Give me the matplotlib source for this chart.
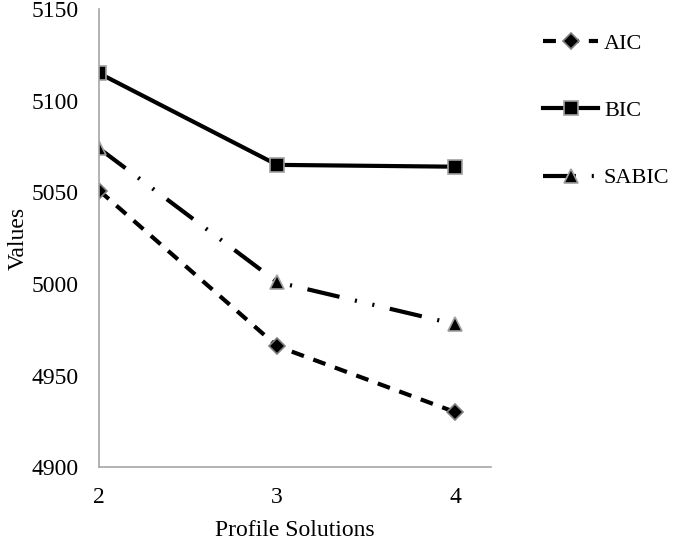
import matplotlib.pyplot as plt

solutions = [2, 3, 4]
aic = [5051, 4966, 4930]
bic = [5115, 5065, 5064]
sabic = [5074, 5001, 4978]

plt.rcParams['font.family'] = ['Liberation Serif', 'DejaVu Serif']
plt.rcParams['font.size'] = 17

fig = plt.figure(figsize=(6.79, 5.4), dpi=100)
ax = fig.add_axes([0.146, 0.135, 0.577, 0.848])

grey = '#a6a6a6'
lw = 3.0
ax.plot(solutions, aic, color='black', lw=lw, dashes=(3.1, 2.4),
        marker='D', markersize=8, markerfacecolor='black',
        markeredgecolor='#808080', markeredgewidth=1.2, label='AIC')
ax.plot(solutions, bic, color='black', lw=lw,
        marker='s', markersize=10, markerfacecolor='black',
        markeredgecolor='#a0a0a0', markeredgewidth=1.2, label='BIC')
ax.plot(solutions, sabic, color='black', lw=lw,
        dashes=(7.9, 3.8, 0.5, 3.8, 0.5, 3.8),
        marker='^', markersize=10, markerfacecolor='black',
        markeredgecolor='#a0a0a0', markeredgewidth=1.2, label='SABIC')

ax.set_xlim(2, 4.2)
ax.set_ylim(4900, 5150)
ax.set_xticks(solutions)
ax.set_yticks([4900, 4950, 5000, 5050, 5100, 5150])
ax.tick_params(length=0, labelsize=17)
ax.tick_params(axis='x', pad=14)
ax.tick_params(axis='y', pad=15)
for s in ['top', 'right']:
    ax.spines[s].set_visible(False)
for s in ['left', 'bottom']:
    ax.spines[s].set_color(grey)
    ax.spines[s].set_linewidth(1.2)

ax.set_xlabel('Profile Solutions', fontsize=17, labelpad=9)
ax.set_ylabel('Values', fontsize=17, labelpad=2)

fig.legend(loc='upper left', bbox_to_anchor=(0.77, 0.975), frameon=False,
           fontsize=16, handlelength=2.5, labelspacing=2.1, handletextpad=0.25)

fig.savefig('out.png', dpi=100)
